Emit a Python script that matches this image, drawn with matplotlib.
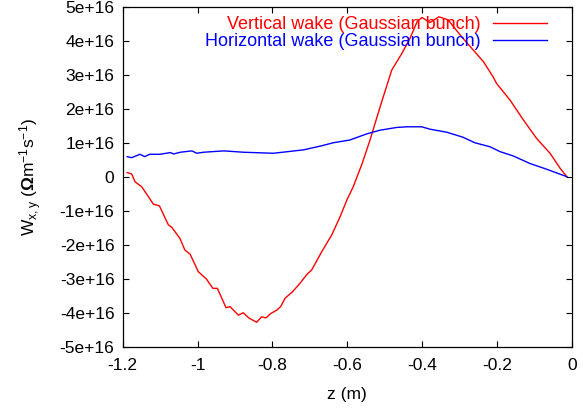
import matplotlib.pyplot as plt
import numpy as np

plt.rcParams['font.family'] = ['Liberation Sans', 'DejaVu Sans']
plt.rcParams['mathtext.fontset'] = 'custom'
plt.rcParams['mathtext.rm'] = 'Liberation Sans'
plt.rcParams['mathtext.it'] = 'Liberation Sans'
plt.rcParams['mathtext.bf'] = 'Liberation Sans:bold'

# Vertical wake (Gaussian bunch) (units of 1e16)
z_vert = [-1.188, -1.176, -1.167, -1.149, -1.118, -1.102, -1.078, -1.069, -1.047,
          -1.034, -1.020, -0.998, -0.976, -0.959, -0.947, -0.924, -0.913, -0.891,
          -0.878, -0.862, -0.842, -0.829, -0.817, -0.804, -0.788, -0.778, -0.766,
          -0.746, -0.726, -0.707, -0.695, -0.668, -0.641, -0.619, -0.601, -0.584,
          -0.560, -0.539, -0.512, -0.481, -0.454, -0.432, -0.413, -0.400, -0.379,
          -0.355, -0.330, -0.316, -0.294, -0.263, -0.236, -0.210, -0.201, -0.165,
          -0.129, -0.094, -0.058, -0.031, -0.013]
w_vert = [0.13, 0.09, -0.14, -0.29, -0.80, -0.85, -1.41, -1.48, -1.81,
          -2.15, -2.27, -2.79, -3.01, -3.28, -3.28, -3.85, -3.82, -4.07,
          -4.00, -4.16, -4.28, -4.12, -4.15, -4.02, -3.92, -3.82, -3.57,
          -3.38, -3.13, -2.86, -2.74, -2.20, -1.70, -1.17, -0.68, -0.29,
          0.40, 1.09, 2.07, 3.15, 3.64, 4.09, 4.58, 4.70, 4.55,
          4.72, 4.63, 4.43, 4.13, 3.74, 3.40, 2.95, 2.76, 2.27,
          1.68, 1.14, 0.70, 0.26, 0.01]

# Horizontal wake (Gaussian bunch)
z_horz = [-1.188, -1.176, -1.154, -1.141, -1.128, -1.100, -1.073, -1.064, -1.046,
          -1.015, -1.002, -0.984, -0.930, -0.877, -0.797, -0.717, -0.672, -0.637,
          -0.593, -0.548, -0.512, -0.468, -0.441, -0.401, -0.379, -0.334, -0.290,
          -0.259, -0.218, -0.192, -0.156, -0.112, -0.067, -0.013]
w_horz = [0.60, 0.57, 0.67, 0.60, 0.67, 0.67, 0.72, 0.68, 0.73,
          0.77, 0.70, 0.73, 0.77, 0.73, 0.70, 0.80, 0.91, 1.01,
          1.09, 1.27, 1.38, 1.46, 1.48, 1.48, 1.41, 1.32, 1.17,
          1.01, 0.89, 0.75, 0.62, 0.40, 0.23, 0.01]

fig = plt.figure(figsize=(5.83, 4.11), dpi=100)
ax = fig.add_axes([0.2105, 0.1564, 0.7701, 0.8258])

ax.plot(z_vert, np.array(w_vert) * 1e16, color='#ff0000', lw=1.0,
        label='Vertical wake (Gaussian bunch)')
ax.plot(z_horz, np.array(w_horz) * 1e16, color='#0000ff', lw=1.0,
        label='Horizontal wake (Gaussian bunch)')

ax.set_xlim(-1.2, 0)
ax.set_ylim(-5e16, 5e16)
ax.set_xticks([-1.2, -1, -0.8, -0.6, -0.4, -0.2, 0])
ax.set_xticklabels(['-1.2', '-1', '-0.8', '-0.6', '-0.4', '-0.2', '0'])
yt = np.arange(-5, 6)
ax.set_yticks(yt * 1e16)
ax.set_yticklabels([('0' if v == 0 else f'{v}e+16') for v in yt])
ax.tick_params(direction='in', length=4.5, width=0.8, top=True, right=True,
               labelsize=12.5, pad=6)
ax.tick_params(axis='x', pad=8)
for s in ax.spines.values():
    s.set_linewidth(0.9)

ax.set_xlabel('z (m)', fontsize=12.5, labelpad=10)
ax.set_ylabel(r'W$_{x,y}$ ($\mathbf{\Omega}$m$^{-1}$s$^{-1}$)', fontsize=12.5, labelpad=11)

leg = ax.legend(loc='upper right', frameon=False, fontsize=13, markerfirst=False,
                handlelength=3.0, handletextpad=0.7, labelspacing=0.0,
                borderaxespad=0.1, bbox_to_anchor=(0.965, 1.0))
for txt, line in zip(leg.get_texts(), leg.get_lines()):
    txt.set_color(line.get_color())
    txt.set_ha('right')

fig.savefig('out.png', dpi=100)
